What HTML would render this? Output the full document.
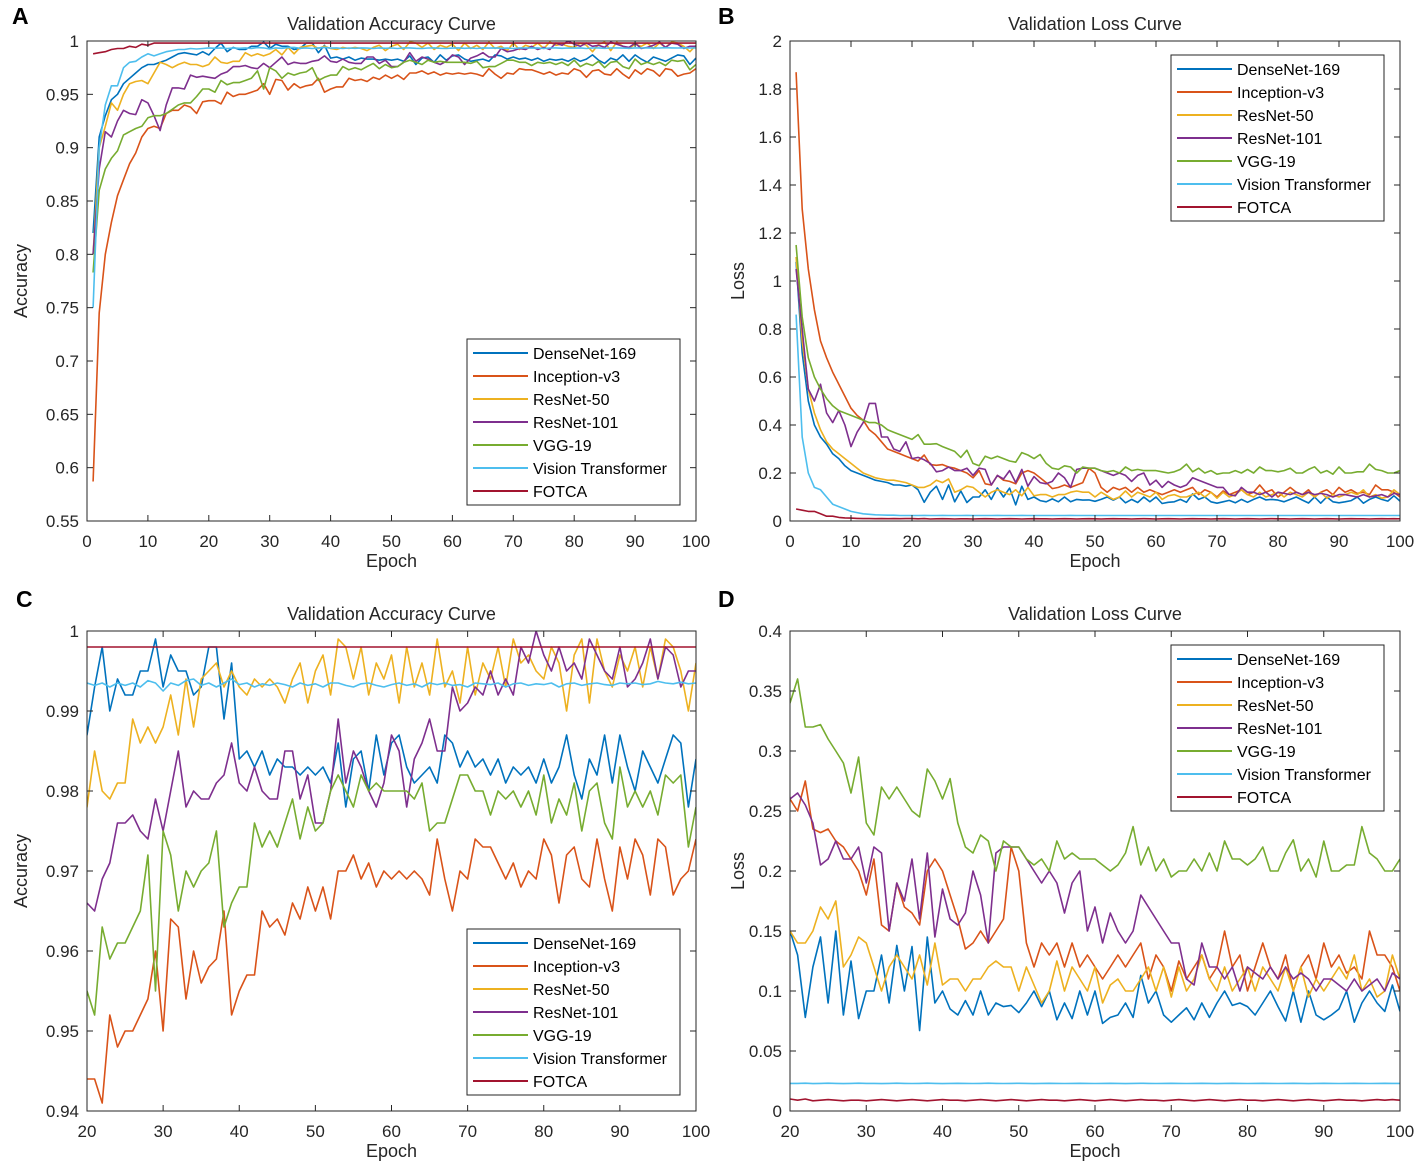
<!DOCTYPE html>
<html><head><meta charset="utf-8"><style>
html,body{margin:0;background:#fff;overflow:hidden;width:1417px;height:1170px;}
svg{display:block;font-family:"Liberation Sans",Arial,sans-serif;overflow:hidden;}
</style></head><body>
<svg id="fig" width="1417" height="1170" viewBox="0 0 1417 1170" xmlns="http://www.w3.org/2000/svg"></svg>
<script>
const seriesNames=["DenseNet-169","Inception-v3","ResNet-50","ResNet-101","VGG-19","Vision Transformer","FOTCA"];
const seriesColors=["#0072BD","#D95319","#EDB120","#7E2F8E","#77AC30","#4DBEEE","#A2142F"];
const accDense=[0.82,0.91,0.93,0.945,0.95,0.96,0.965,0.97,0.975,0.978,0.978,0.98,0.982,0.985,0.988,0.989,0.988,0.987,0.99,0.987,0.993,0.998,0.99,0.994,0.992,0.992,0.995,0.995,0.999,0.993,0.997,0.995,0.995,0.992,0.993,0.998,0.998,0.989,0.996,0.984,0.985,0.983,0.985,0.982,0.984,0.983,0.983,0.982,0.983,0.982,0.983,0.981,0.986,0.978,0.984,0.985,0.98,0.987,0.982,0.986,0.987,0.983,0.981,0.982,0.983,0.981,0.987,0.986,0.983,0.985,0.983,0.984,0.982,0.984,0.981,0.983,0.982,0.983,0.981,0.984,0.981,0.983,0.987,0.982,0.979,0.984,0.982,0.987,0.981,0.987,0.983,0.98,0.985,0.983,0.981,0.984,0.987,0.986,0.978,0.984];
const accIncep=[0.587,0.745,0.80,0.83,0.855,0.87,0.885,0.895,0.91,0.918,0.92,0.918,0.932,0.935,0.935,0.94,0.938,0.932,0.943,0.944,0.944,0.941,0.952,0.948,0.95,0.95,0.952,0.954,0.96,0.95,0.964,0.963,0.954,0.96,0.956,0.958,0.959,0.965,0.952,0.955,0.957,0.957,0.965,0.963,0.964,0.962,0.966,0.964,0.968,0.965,0.968,0.964,0.97,0.97,0.972,0.969,0.971,0.968,0.97,0.969,0.97,0.969,0.97,0.969,0.967,0.974,0.969,0.965,0.97,0.969,0.974,0.973,0.973,0.971,0.969,0.971,0.968,0.97,0.969,0.974,0.972,0.966,0.972,0.973,0.969,0.968,0.974,0.969,0.965,0.973,0.969,0.974,0.972,0.967,0.974,0.973,0.967,0.969,0.97,0.974];
const accRes50=[0.80,0.90,0.92,0.942,0.935,0.95,0.96,0.962,0.963,0.96,0.97,0.98,0.978,0.975,0.978,0.98,0.978,0.978,0.976,0.978,0.985,0.98,0.979,0.981,0.981,0.989,0.986,0.988,0.986,0.988,0.992,0.987,0.994,0.988,0.994,0.995,0.996,0.993,0.995,0.993,0.992,0.994,0.993,0.994,0.993,0.991,0.994,0.996,0.991,0.995,0.997,0.992,0.999,0.998,0.994,0.998,0.992,0.996,0.994,0.997,0.991,0.998,0.993,0.996,0.992,0.999,0.993,0.995,0.991,0.998,0.992,0.996,0.994,0.998,0.993,0.999,0.996,0.997,0.995,0.994,0.998,0.996,0.99,0.997,0.999,0.991,0.999,0.995,0.993,0.997,0.995,0.998,0.993,0.998,0.994,0.999,0.998,0.995,0.99,0.996];
const accRes101=[0.80,0.88,0.915,0.91,0.925,0.935,0.932,0.931,0.945,0.942,0.93,0.916,0.94,0.956,0.956,0.955,0.968,0.966,0.967,0.966,0.965,0.969,0.971,0.976,0.976,0.977,0.975,0.974,0.979,0.975,0.98,0.985,0.978,0.98,0.979,0.979,0.981,0.982,0.986,0.981,0.98,0.983,0.98,0.979,0.979,0.985,0.985,0.979,0.982,0.976,0.976,0.98,0.989,0.981,0.985,0.983,0.98,0.978,0.981,0.987,0.985,0.978,0.984,0.986,0.989,0.985,0.985,0.993,0.99,0.991,0.993,0.992,0.995,0.992,0.994,0.992,0.998,0.996,1.0,0.997,0.995,0.998,0.995,0.996,0.994,0.999,0.997,0.995,0.994,0.998,0.993,0.994,0.996,0.999,0.994,0.998,0.997,0.993,0.995,0.995];
const accVgg=[0.783,0.86,0.88,0.89,0.897,0.912,0.915,0.918,0.92,0.928,0.93,0.93,0.932,0.936,0.94,0.942,0.942,0.948,0.955,0.955,0.952,0.963,0.959,0.961,0.961,0.963,0.965,0.972,0.955,0.975,0.972,0.965,0.97,0.968,0.97,0.971,0.975,0.963,0.966,0.968,0.968,0.976,0.973,0.975,0.973,0.976,0.979,0.974,0.978,0.975,0.976,0.98,0.982,0.98,0.978,0.982,0.98,0.981,0.98,0.98,0.98,0.98,0.979,0.981,0.975,0.976,0.976,0.979,0.982,0.982,0.98,0.98,0.977,0.98,0.979,0.98,0.978,0.98,0.977,0.982,0.976,0.979,0.977,0.981,0.975,0.98,0.981,0.976,0.974,0.983,0.978,0.98,0.978,0.98,0.977,0.982,0.981,0.982,0.973,0.978];
const accVit=[0.75,0.90,0.94,0.958,0.958,0.975,0.98,0.981,0.985,0.988,0.986,0.988,0.99,0.991,0.992,0.992,0.993,0.9925,0.993,0.9935,0.9932,0.9935,0.993,0.9935,0.9932,0.9935,0.993,0.9938,0.9935,0.9925,0.9935,0.9932,0.9938,0.994,0.9932,0.9935,0.993,0.9935,0.994,0.9933,0.9935,0.993,0.9934,0.9932,0.9935,0.9933,0.993,0.9935,0.9932,0.9934,0.993,0.9935,0.9935,0.9932,0.993,0.9934,0.9935,0.9932,0.993,0.9933,0.9935,0.9932,0.9934,0.993,0.9935,0.9933,0.9935,0.9932,0.9933,0.993,0.9935,0.9934,0.9933,0.9935,0.993,0.9934,0.9935,0.9932,0.9934,0.9933,0.9935,0.993,0.9934,0.9935,0.9932,0.9934,0.9935,0.9933,0.9932,0.9935,0.9934,0.9935,0.9933,0.9934,0.9937,0.9935,0.9934,0.9936,0.9934,0.9935];
const accFotca=[0.988,0.989,0.99,0.992,0.993,0.993,0.995,0.994,0.997,0.996,0.998,0.998,0.998,0.998,0.998,0.998,0.998,0.998,0.998,0.998,0.998,0.998,0.998,0.998,0.998,0.998,0.998,0.998,0.998,0.998,0.998,0.998,0.998,0.998,0.998,0.998,0.998,0.998,0.998,0.998,0.998,0.998,0.998,0.998,0.998,0.998,0.998,0.998,0.998,0.998,0.998,0.998,0.998,0.998,0.998,0.998,0.998,0.998,0.998,0.998,0.998,0.998,0.998,0.998,0.998,0.998,0.998,0.998,0.998,0.998,0.998,0.998,0.998,0.998,0.998,0.998,0.998,0.998,0.998,0.998,0.998,0.998,0.998,0.998,0.998,0.998,0.998,0.998,0.998,0.998,0.998,0.998,0.998,0.998,0.998,0.998,0.998,0.998,0.998,0.998];
const lossDense=[1.08,0.7,0.5,0.4,0.35,0.32,0.28,0.26,0.23,0.21,0.2,0.19,0.18,0.17,0.165,0.16,0.15,0.15,0.145,0.15,0.13,0.078,0.12,0.145,0.09,0.15,0.08,0.125,0.077,0.1,0.1,0.13,0.09,0.138,0.1,0.137,0.067,0.145,0.09,0.1,0.085,0.08,0.092,0.08,0.1,0.08,0.09,0.087,0.088,0.082,0.09,0.1,0.087,0.1,0.076,0.09,0.077,0.1,0.08,0.1,0.073,0.078,0.08,0.09,0.078,0.113,0.09,0.1,0.08,0.074,0.08,0.086,0.076,0.09,0.078,0.09,0.1,0.088,0.09,0.087,0.08,0.09,0.1,0.087,0.075,0.1,0.074,0.1,0.08,0.076,0.08,0.085,0.1,0.074,0.09,0.1,0.09,0.083,0.105,0.083];
const lossIncep=[1.87,1.3,1.05,0.88,0.75,0.68,0.62,0.57,0.52,0.47,0.44,0.42,0.38,0.36,0.33,0.3,0.29,0.28,0.27,0.26,0.25,0.275,0.235,0.232,0.235,0.225,0.22,0.21,0.2,0.18,0.21,0.155,0.15,0.19,0.17,0.165,0.155,0.2,0.21,0.2,0.18,0.16,0.135,0.14,0.15,0.14,0.15,0.16,0.22,0.2,0.14,0.12,0.14,0.13,0.14,0.12,0.14,0.12,0.13,0.12,0.11,0.12,0.13,0.12,0.13,0.14,0.11,0.13,0.12,0.1,0.125,0.11,0.12,0.13,0.11,0.12,0.15,0.12,0.13,0.1,0.12,0.14,0.12,0.11,0.13,0.1,0.12,0.13,0.11,0.14,0.12,0.13,0.115,0.12,0.11,0.15,0.13,0.13,0.12,0.1];
const lossRes50=[1.1,0.75,0.55,0.45,0.38,0.33,0.3,0.28,0.26,0.24,0.22,0.2,0.19,0.18,0.175,0.17,0.17,0.165,0.16,0.15,0.14,0.14,0.15,0.17,0.16,0.175,0.12,0.13,0.145,0.14,0.12,0.1,0.12,0.13,0.12,0.11,0.13,0.105,0.14,0.105,0.11,0.11,0.1,0.11,0.11,0.12,0.125,0.12,0.12,0.1,0.12,0.105,0.09,0.1,0.125,0.1,0.12,0.11,0.1,0.12,0.09,0.105,0.11,0.1,0.1,0.11,0.12,0.1,0.12,0.095,0.12,0.1,0.11,0.13,0.11,0.1,0.12,0.1,0.11,0.12,0.1,0.12,0.11,0.1,0.12,0.1,0.12,0.095,0.11,0.1,0.11,0.12,0.11,0.13,0.1,0.11,0.095,0.1,0.13,0.11];
const lossRes101=[1.05,0.8,0.55,0.5,0.57,0.45,0.41,0.46,0.4,0.31,0.37,0.41,0.49,0.49,0.35,0.35,0.3,0.29,0.33,0.26,0.265,0.255,0.24,0.205,0.21,0.225,0.21,0.21,0.22,0.19,0.22,0.215,0.15,0.19,0.175,0.21,0.16,0.215,0.145,0.185,0.16,0.155,0.165,0.2,0.18,0.14,0.215,0.22,0.22,0.22,0.21,0.2,0.19,0.2,0.19,0.165,0.19,0.2,0.15,0.17,0.14,0.165,0.15,0.14,0.15,0.18,0.17,0.16,0.15,0.14,0.14,0.11,0.105,0.14,0.12,0.12,0.11,0.12,0.1,0.12,0.115,0.11,0.12,0.11,0.12,0.11,0.115,0.11,0.1,0.11,0.11,0.105,0.1,0.11,0.1,0.105,0.11,0.1,0.115,0.11];
const lossVgg=[1.15,0.85,0.68,0.6,0.55,0.51,0.48,0.46,0.45,0.44,0.43,0.42,0.41,0.41,0.4,0.38,0.37,0.36,0.35,0.34,0.36,0.32,0.32,0.322,0.31,0.3,0.29,0.265,0.295,0.24,0.23,0.27,0.26,0.27,0.26,0.25,0.245,0.285,0.275,0.26,0.277,0.24,0.22,0.215,0.23,0.225,0.2,0.225,0.22,0.22,0.21,0.205,0.21,0.2,0.225,0.21,0.215,0.21,0.21,0.21,0.205,0.2,0.205,0.215,0.237,0.205,0.22,0.2,0.21,0.195,0.2,0.2,0.21,0.2,0.215,0.2,0.225,0.21,0.21,0.205,0.21,0.22,0.2,0.2,0.215,0.226,0.2,0.21,0.195,0.225,0.2,0.2,0.205,0.205,0.237,0.215,0.21,0.2,0.2,0.21];
const lossVit=[0.86,0.35,0.2,0.14,0.13,0.1,0.07,0.06,0.05,0.04,0.035,0.03,0.028,0.026,0.025,0.024,0.024,0.023,0.023,0.023,0.023,0.0232,0.0228,0.023,0.0232,0.023,0.0228,0.023,0.0232,0.023,0.023,0.0228,0.023,0.0232,0.023,0.0229,0.023,0.0232,0.023,0.0228,0.023,0.0231,0.023,0.0229,0.023,0.0232,0.023,0.0229,0.023,0.0231,0.023,0.0228,0.023,0.0231,0.023,0.0229,0.023,0.0231,0.023,0.0229,0.023,0.0231,0.023,0.0228,0.023,0.0231,0.023,0.0229,0.023,0.0231,0.023,0.0229,0.023,0.0231,0.023,0.0228,0.023,0.0231,0.023,0.0229,0.023,0.0231,0.023,0.0229,0.023,0.0231,0.023,0.0228,0.023,0.0231,0.023,0.0229,0.023,0.0231,0.023,0.0229,0.023,0.0231,0.023,0.023];
const lossFotca=[0.05,0.045,0.04,0.04,0.03,0.02,0.02,0.015,0.013,0.012,0.011,0.01,0.01,0.0095,0.01,0.0095,0.01,0.0095,0.01,0.01,0.009,0.01,0.0085,0.009,0.0095,0.009,0.0085,0.009,0.009,0.0085,0.009,0.0095,0.009,0.0085,0.009,0.0095,0.009,0.0085,0.009,0.0095,0.009,0.009,0.0085,0.009,0.0095,0.009,0.0085,0.009,0.0095,0.009,0.0085,0.009,0.0095,0.009,0.009,0.0085,0.009,0.0095,0.009,0.0085,0.009,0.0095,0.009,0.0085,0.009,0.0095,0.009,0.009,0.0085,0.009,0.0095,0.009,0.0085,0.009,0.0095,0.009,0.0085,0.009,0.0095,0.009,0.009,0.0085,0.009,0.0095,0.009,0.0085,0.009,0.0095,0.009,0.0085,0.009,0.0095,0.009,0.009,0.0085,0.009,0.0095,0.009,0.0095,0.009];
const accSeries=[accDense,accIncep,accRes50,accRes101,accVgg,accVit,accFotca];
const lossSeries=[lossDense,lossIncep,lossRes50,lossRes101,lossVgg,lossVit,lossFotca];
const xTicksFull=[0,10,20,30,40,50,60,70,80,90,100];
const xTicksZoom=[20,30,40,50,60,70,80,90,100];
const yTicksA=["0.55","0.6","0.65","0.7","0.75","0.8","0.85","0.9","0.95","1"];
const yTicksB=["0","0.2","0.4","0.6","0.8","1","1.2","1.4","1.6","1.8","2"];
const yTicksC=["0.94","0.95","0.96","0.97","0.98","0.99","1"];
const yTicksD=["0","0.05","0.1","0.15","0.2","0.25","0.3","0.35","0.4"];

const NS="http://www.w3.org/2000/svg";
const svg=document.getElementById('fig');
function mk(tag,attrs,parent){const e=document.createElementNS(NS,tag);for(const k in attrs)e.setAttribute(k,attrs[k]);(parent||svg).appendChild(e);return e;}

const panels=[
 {id:'a',letter:'A',lx:12,ly:24,x0:87,x1:696,y0:41,y1:521,xmin:0,xmax:100,xt:xTicksFull,ymin:0.55,ymax:1,yt:yTicksA,title:'Validation Accuracy Curve',ylab:'Accuracy',data:accSeries,leg:[467,339]},
 {id:'b',letter:'B',lx:718,ly:24,x0:790,x1:1400,y0:41,y1:521,xmin:0,xmax:100,xt:xTicksFull,ymin:0,ymax:2,yt:yTicksB,title:'Validation Loss Curve',ylab:'Loss',data:lossSeries,leg:[1171,55]},
 {id:'c',letter:'C',lx:16,ly:607,x0:87,x1:696,y0:631,y1:1111,xmin:20,xmax:100,xt:xTicksZoom,ymin:0.94,ymax:1,yt:yTicksC,title:'Validation Accuracy Curve',ylab:'Accuracy',data:accSeries,leg:[467,929]},
 {id:'d',letter:'D',lx:718,ly:607,x0:790,x1:1400,y0:631,y1:1111,xmin:20,xmax:100,xt:xTicksZoom,ymin:0,ymax:0.4,yt:yTicksD,title:'Validation Loss Curve',ylab:'Loss',data:lossSeries,leg:[1171,645]}
];

panels.forEach(p=>{
 const g=mk('g',{});
 
 
 const sx=v=>p.x0+(v-p.xmin)/(p.xmax-p.xmin)*(p.x1-p.x0);
 const sy=v=>p.y1-(v-p.ymin)/(p.ymax-p.ymin)*(p.y1-p.y0);
 const let_=mk('text',{x:p.lx,y:p.ly,'font-size':23,'font-weight':'bold',fill:'#000'},g);let_.textContent=p.letter;
 
 const t=mk('text',{x:(p.x0+p.x1)/2,y:p.y0-11,'font-size':18,'text-anchor':'middle',fill:'#262626'},g);t.textContent=p.title;
 
 const clip=mk('clipPath',{id:'clip'+p.id},g);mk('rect',{x:p.x0,y:p.y0,width:p.x1-p.x0,height:p.y1-p.y0},clip);
 const lines=mk('g',{'clip-path':'url(#clip'+p.id+')'},g);
 
 p.data.forEach((arr,si)=>{
  const pts=arr.map((v,i)=>sx(i+1).toFixed(1)+','+sy(v).toFixed(1)).join(' ');
  const pl=mk('polyline',{points:pts,fill:'none',stroke:seriesColors[si],'stroke-width':1.6,'stroke-linejoin':'round'},lines);
  
  
 });
 const box=mk('rect',{x:p.x0,y:p.y0,width:p.x1-p.x0,height:p.y1-p.y0,fill:'none',stroke:'#262626','stroke-width':1},g);
 
 p.xt.forEach(v=>{const x=sx(v);
  mk('line',{x1:x,x2:x,y1:p.y1,y2:p.y1-6,stroke:'#262626'},g);mk('line',{x1:x,x2:x,y1:p.y0,y2:p.y0+6,stroke:'#262626'},g);
  const tl=mk('text',{x:x,y:p.y1+26,'font-size':17,'text-anchor':'middle',fill:'#262626'},g);tl.textContent=v;
  });
 p.yt.forEach(s=>{const y=sy(parseFloat(s));
  mk('line',{x1:p.x0,x2:p.x0+6,y1:y,y2:y,stroke:'#262626'},g);mk('line',{x1:p.x1,x2:p.x1-6,y1:y,y2:y,stroke:'#262626'},g);
  const tl=mk('text',{x:p.x0-8,y:y+6,'font-size':17,'text-anchor':'end',fill:'#262626'},g);tl.textContent=s;
  });
 const xl=mk('text',{x:(p.x0+p.x1)/2,y:p.y1+46,'font-size':18,'text-anchor':'middle',fill:'#262626'},g);xl.textContent='Epoch';
 
 const yx=p.x0-60+(p.ylab==='Loss'?14:0), yc=(p.y0+p.y1)/2;
 const yl=mk('text',{x:yx,y:yc,'font-size':18,'text-anchor':'middle',fill:'#262626',transform:'rotate(-90 '+yx+' '+yc+')'},g);yl.textContent=p.ylab;
 
 const lg=mk('g',{},g);
 const [lx,ly]=p.leg;
 mk('rect',{x:lx,y:ly,width:213,height:166,fill:'#fff',stroke:'#262626','stroke-width':1},lg);
 seriesNames.forEach((n,i)=>{const yy=ly+14+i*23;
  const e=mk('g',{},lg);
  mk('line',{x1:lx+6,x2:lx+61,y1:yy,y2:yy,stroke:seriesColors[i],'stroke-width':2},e);
  const tx=mk('text',{x:lx+66,y:yy+6,'font-size':16,fill:'#000'},e);tx.textContent=n;});
});
</script>
</body></html>
